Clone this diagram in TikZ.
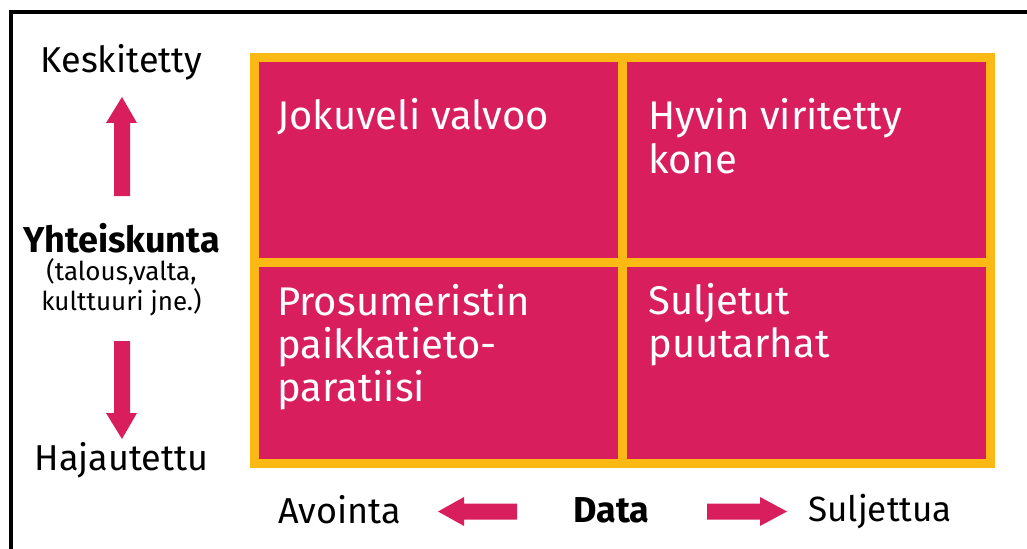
\documentclass[tikz,border=0pt]{standalone}
\usepackage{fontspec}
\setmainfont{Fira Sans}
\definecolor{pinkred}{RGB}{217,30,94}
\definecolor{amber}{RGB}{253,185,19}

\tikzset{
  label/.style={inner sep=0pt, font=\fontsize{27}{30}\selectfont},
  cell/.style={inner sep=0pt, text=white, align=left, anchor=base west,
    font=\fontsize{30}{32.25}\selectfont},
  blockarrow/.style={fill=pinkred}
}

\begin{document}
\begin{tikzpicture}[x=0.75pt,y=-0.75pt]
        \useasboundingbox (0,0) rectangle (1027,549);

        % frame
        \draw[line width=3pt] (10.5,570) -- (10.5,12) -- (1045,12);

        % the four fields
        \fill[amber] (250,53) rectangle (995,468);
        \fill[pinkred] (259,62) rectangle (618,258);
        \fill[pinkred] (627,62) rectangle (986,258);
        \fill[pinkred] (259,267) rectangle (618,459);
        \fill[pinkred] (627,267) rectangle (986,459);

        % base of a wrapped node is its last line
        \node[cell] (TL) at (277,130) {Jokuveli valvoo};
        \node[cell] (TR) at (648,173) {Hyvin viritetty\\kone};
        \node[cell] (BL) at (277,401) {Prosumeristin\\paikkatieto-\\paratiisi};
        \node[cell] (BR) at (648,357) {Suljetut\\puutarhat};

        % vertical axis
        \node[label, anchor=base] (K) at (121.5,73) {Keskitetty};
        \node[label, anchor=base] (H) at (121.5,470) {Hajautettu};
        \node[label, anchor=base, font=\fontsize{27}{30}\selectfont\bfseries] (Y) at (121.5,252) {Yhteiskunta};
        \node[inner sep=0pt, anchor=base, align=center, font=\fontsize{19.5}{22.5}\selectfont] (S) at (121.5,310) {(talous,valta,\\kulttuuri jne.)};

        \fill[blockarrow] (122,97) -- (137,123) -- (130,123) -- (130,196) -- (114,196) -- (114,123) -- (106,123) -- cycle;
        \fill[blockarrow] (114,341) -- (130,341) -- (130,413) -- (137,413) -- (122,439) -- (106,413) -- (114,413) -- cycle;

        % horizontal axis
        \node[label, anchor=base west] (A) at (278,523) {Avointa};
        \node[label, anchor=base, font=\fontsize{27}{30}\selectfont\bfseries] (D) at (611.5,522) {Data};
        \node[label, anchor=base west, font=\fontsize{26.3}{30}\selectfont] (Su) at (808,521) {Suljettua};

        \fill[blockarrow] (438,511.5) -- (464,497) -- (464,503.5) -- (517,503.5) -- (517,519.5) -- (464,519.5) -- (464,526) -- cycle;
        \fill[blockarrow] (787,511.5) -- (760,497) -- (760,503.5) -- (707,503.5) -- (707,519.5) -- (760,519.5) -- (760,526) -- cycle;
\end{tikzpicture}
\end{document}
